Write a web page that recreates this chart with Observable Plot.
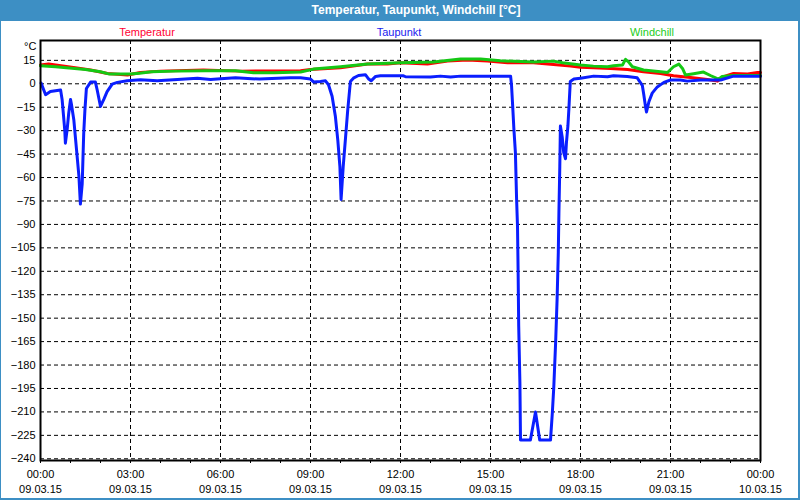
<!DOCTYPE html>
<html>
<head>
<meta charset="utf-8">
<script src="https://cdn.jsdelivr.net/npm/d3@7"></script>
<script src="https://cdn.jsdelivr.net/npm/@observablehq/plot@0.6"></script>
<style>
  body { margin: 0; background: #fff; }
  #wrap { position: relative; width: 800px; height: 500px; overflow: hidden; background: #fff;
          font-family: "Liberation Sans", Arial, sans-serif; }
  #chart { position: absolute; left: 0; top: 0; }
  #titlebar { position: absolute; left: 0; top: 0; width: 800px; height: 21px; background: #3d8fc4; }
  #titlebar span { position: absolute; left: 416px; top: 0; line-height: 21px; transform: translateX(-50%);
                   color: #fff; font-weight: bold; font-size: 12px; white-space: nowrap; }
  .lg { position: absolute; top: 25px; font-size: 11px; line-height: 14px; transform: translateX(-50%); white-space: nowrap; }
  #unit { position: absolute; left: 24px; top: 39px; font-size: 11px; line-height: 14px; }
  #border { position: absolute; left: 0; top: 0; width: 800px; height: 500px; box-sizing: border-box;
            border-left: 1px solid #3d8fc4; border-right: 2px solid #3d8fc4; border-bottom: 2px solid #3d8fc4; pointer-events: none; }
</style>
</head>
<body>
<div id="wrap">
  <div id="chart"></div>
  <div id="titlebar"><span>Temperatur, Taupunkt, Windchill [°C]</span></div>
  <div id="legend"></div>
  <div id="unit">°C</div>
  <div id="border"></div>
</div>
<script>
// ---- Data (hours since 09.03.15 00:00, °C) ----
const seriesNames = ["Temperatur", "Taupunkt", "Windchill"];
const seriesColors = ["#ff0000", "#0a1eff", "#14c814"];
const legendColors = ["#ff0033", "#1a1aee", "#22cc22"];

const tempHours  = [0, 0.27, 1.1, 1.67, 2.23, 2.9, 3.33, 4, 5.43, 6.67, 8.67, 9, 10, 10.9, 11.57, 12, 12.9, 13.57, 14.23, 14.9, 15.57, 16.43, 17.1, 17.67, 18, 18.43, 19, 19.57, 20.1, 20.67, 21.1, 21.67, 22.23, 22.57, 22.77, 23.1, 23.57, 23.9, 24];
const tempValues = [12.0, 12.6, 10.5, 8.8, 6.6, 5.6, 7.2, 8.1, 8.8, 8.1, 8.3, 9.2, 10.2, 12.6, 12.6, 13.4, 12.6, 14.5, 15.2, 14.5, 13.4, 13.4, 12.4, 11.3, 10.5, 10.2, 9.8, 9.2, 7.7, 6.6, 5.1, 4.0, 2.8, 1.7, 4.5, 6.6, 6.2, 7.2, 7.2];

const chillHours  = [0, 0.5, 1.5, 2, 2.3, 3, 3.3, 3.7, 4.5, 5.5, 6.5, 7.1, 7.8, 8.67, 9.1, 10, 10.9, 12, 13.1, 14, 14.67, 15.33, 16.43, 17.1, 17.4, 18, 18.43, 18.9, 19.1, 19.4, 19.5, 19.6, 19.73, 20.1, 20.67, 20.9, 21.1, 21.28, 21.4, 21.5, 21.77, 22.1, 22.33, 22.6, 22.72, 23.1, 24];
const chillValues = [11.5, 10.9, 9.2, 7.7, 6.2, 6.2, 6.8, 7.7, 8.1, 8.3, 8.3, 7.0, 7.0, 7.5, 9.4, 10.9, 12.6, 13.4, 14.0, 15.8, 15.8, 14.7, 14.0, 14.5, 13.4, 12.0, 11.3, 10.9, 11.5, 12.0, 15.6, 14.0, 10.9, 8.8, 7.7, 7.2, 10.9, 12.6, 9.8, 5.6, 6.4, 7.5, 5.3, 3.0, 4.7, 5.3, 5.3];

const dewHours  = [0.02, 0.17, 0.33, 0.67, 0.72, 0.77, 0.81, 0.83, 0.89, 0.94, 1.0, 1.03, 1.11, 1.2, 1.28, 1.33, 1.39, 1.44, 1.48, 1.53, 1.67, 1.83, 1.89, 2.0, 2.11, 2.22, 2.39, 2.56, 2.89, 3.33, 3.89, 4.43, 5.23, 5.67, 6.0, 6.5, 7.3, 8.33, 8.67, 9.0, 9.1, 9.33, 9.5, 9.6, 9.72, 9.83, 9.91, 9.98, 10.02, 10.09, 10.17, 10.24, 10.33, 10.43, 10.6, 10.83, 10.94, 11.02, 11.17, 11.33, 12.1, 12.17, 13, 13.33, 13.67, 14, 15.67, 15.7, 15.74, 15.78, 15.83, 15.87, 15.9, 15.92, 15.94, 15.98, 16.0, 16.33, 16.5, 16.64, 17.0, 17.06, 17.11, 17.17, 17.22, 17.26, 17.28, 17.31, 17.33, 17.39, 17.44, 17.5, 17.53, 17.58, 17.61, 17.66, 17.78, 18, 18.44, 18.9, 19.1, 19.56, 19.89, 20.06, 20.11, 20.17, 20.2, 20.28, 20.39, 20.56, 20.78, 21.0, 21.33, 21.56, 22, 22.67, 23.1, 24];
const dewValues = [0.4, -7, -5, -4, -10, -21, -30, -38, -29, -19, -10, -13, -23, -42, -59, -77, -64, -32, -17, -3, 1.1, 1.1, -4, -14.5, -10, -5, -0.2, 0.9, 1.9, 2.6, 2.0, 2.6, 3.6, 2.8, 3.2, 3.8, 3.0, 3.8, 3.8, 3.0, 1.2, 1.5, 1.9, -0.6, -8, -21, -36, -53, -74, -53, -34, -17, 1.5, 3.6, 5.3, 5.8, 3.0, 1.9, 4.7, 5.1, 5.1, 4.5, 4.3, 4.9, 4.3, 4.9, 4.9, -0.6, -14.5, -29, -44, -74, -91, -119, -155, -191, -228, -228, -210, -228, -228, -211, -194, -166, -138, -108, -83, -53, -27, -34, -44, -48, -38, -27, -17, 1.5, 3.0, 3.6, 4.9, 4.5, 5.1, 4.7, 3.8, -1, -7, -15, -18, -11.5, -6, -2, 0.9, 2.4, 2.4, 1.7, 2.4, 2.4, 4.9, 4.9];

// ---- Axis ticks ----
const yTicks = d3.range(15, -241, -15);
const hourTicks = d3.range(0, 25, 1);
const gridHours = [3, 6, 9, 12, 15, 18, 21];
const labelHours = [0, 3, 6, 9, 12, 15, 18, 21, 24];
const timeLabels = ["00:00", "03:00", "06:00", "09:00", "12:00", "15:00", "18:00", "21:00", "00:00"];
const dateLabels = ["09.03.15", "09.03.15", "09.03.15", "09.03.15", "09.03.15", "09.03.15", "09.03.15", "09.03.15", "10.03.15"];
const yDomain = [-241.1, 27.7];
const legendCenters = [147, 399, 652];

const toRows = (hs, vs) => hs.map((h, i) => ({h, v: vs[i]}));
const temp = toRows(tempHours, tempValues);
const dew = toRows(dewHours, dewValues);
const chill = toRows(chillHours, chillValues);

const chart = Plot.plot({
  width: 800,
  height: 500,
  marginTop: 40,
  marginBottom: 40,
  marginLeft: 40,
  marginRight: 40,
  style: {fontFamily: "'Liberation Sans', Arial, sans-serif", fontSize: "11px", color: "#000", background: "transparent"},
  x: {domain: [0, 24], ticks: hourTicks, tickSize: 3, tickFormat: () => "", label: null},
  y: {domain: yDomain, ticks: yTicks, tickSize: 0, tickPadding: 5, label: null},
  marks: [
    Plot.ruleY(yTicks, {stroke: "#000", strokeWidth: 1, strokeDasharray: "4,3"}),
    Plot.ruleX(gridHours, {stroke: "#000", strokeWidth: 1, strokeDasharray: "4,3"}),
    Plot.line(temp, {x: "h", y: "v", stroke: seriesColors[0], strokeWidth: 3}),
    Plot.line(chill, {x: "h", y: "v", stroke: seriesColors[2], strokeWidth: 3}),
    Plot.line(dew, {x: "h", y: "v", stroke: seriesColors[1], strokeWidth: 3}),
    Plot.frame({stroke: "#000", strokeWidth: 2}),
    Plot.text(labelHours, {x: d => d, text: (d, i) => timeLabels[i], frameAnchor: "bottom", dy: 17, fill: "#000"}),
    Plot.text(labelHours, {x: d => d, text: (d, i) => dateLabels[i], frameAnchor: "bottom", dy: 32, fill: "#000"})
  ]
});
document.getElementById("chart").appendChild(chart);

const legend = document.getElementById("legend");
seriesNames.forEach((name, i) => {
  const el = document.createElement("div");
  el.className = "lg";
  el.style.left = legendCenters[i] + "px";
  el.style.color = legendColors[i];
  el.textContent = name;
  legend.appendChild(el);
});
</script>
</body>
</html>
